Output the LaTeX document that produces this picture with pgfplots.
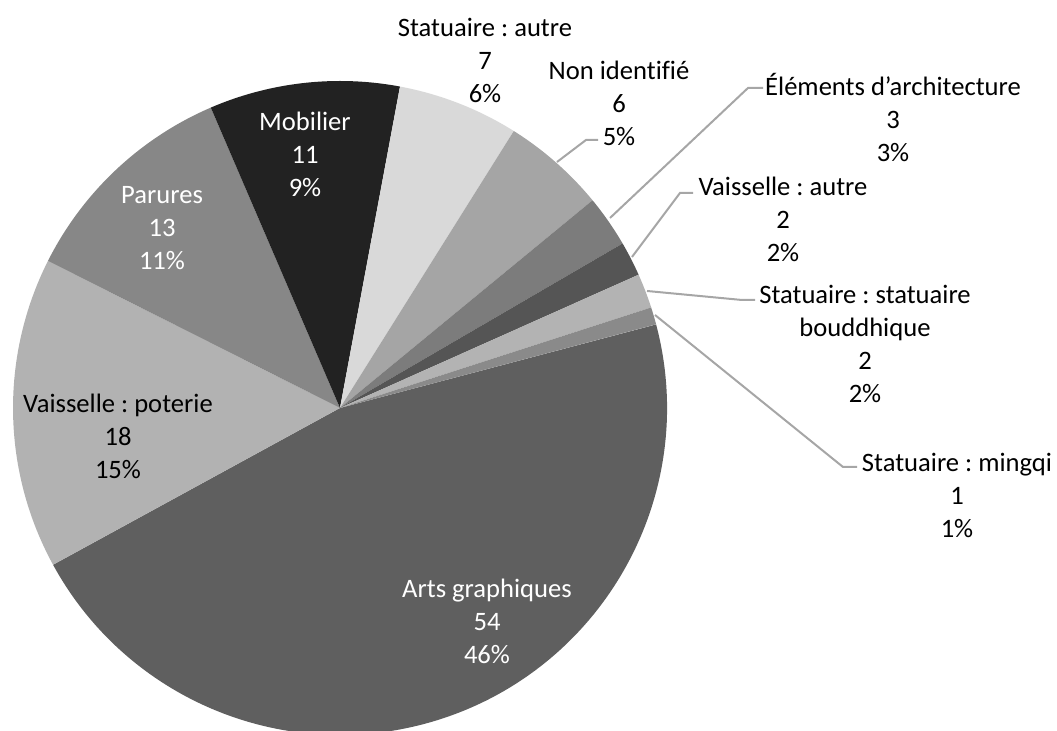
\documentclass[border=0pt]{standalone}
\usepackage{pgfplots}
\pgfplotsset{compat=1.18}
\usepackage{fontspec}
\setmainfont{Carlito}[Ligatures=NoCommon]
\frenchspacing
\definecolor{c1}{HTML}{5F5F5F}
\definecolor{c2}{HTML}{B2B2B2}
\definecolor{c3}{HTML}{878787}
\definecolor{c4}{HTML}{222222}
\definecolor{c5}{HTML}{D9D9D9}
\definecolor{c6}{HTML}{A5A5A5}
\definecolor{c7}{HTML}{7C7C7C}
\definecolor{c8}{HTML}{555555}
\definecolor{c9}{HTML}{B3B3B3}
\definecolor{c10}{HTML}{8A8A8A}
\definecolor{leader}{HTML}{A6A6A6}
% values of the slices, clockwise from "Arts graphiques"
\pgfmathsetmacro\total{54+18+13+11+7+6+3+2+2+1}
\gdef\curang{14.8}
\newcommand\slice[2]{%
  \pgfmathsetmacro\endang{\curang-#1/\total*360}%
  \edef\temp{\noexpand\fill[#2] (axis cs:340,323) -- ++(\curang:163.5pt) arc[start angle=\curang, end angle=\endang, radius=163.5pt] -- cycle;}%
  \temp
  \global\let\curang\endang
}
\begin{document}
\begin{tikzpicture}
\begin{axis}[x=0.5pt,y=0.5pt,xmin=0,xmax=1057,ymin=0,ymax=731,
  hide axis, clip=false, scale only axis]
\slice{54}{c1}
\slice{18}{c2}
\slice{13}{c3}
\slice{11}{c4}
\slice{7}{c5}
\slice{6}{c6}
\slice{3}{c7}
\slice{2}{c8}
\slice{2}{c9}
\slice{1}{c10}
% leader lines
\draw[leader, line width=1pt] (axis cs:557,569) -- (axis cs:586,591) -- (axis cs:598,591);
\draw[leader, line width=1pt] (axis cs:610,513) -- (axis cs:748,643) -- (axis cs:763,643);
\draw[leader, line width=1pt] (axis cs:632,474) -- (axis cs:680,538) -- (axis cs:693,538);
\draw[leader, line width=1pt] (axis cs:647,440) -- (axis cs:742,431) -- (axis cs:755,431);
\draw[leader, line width=1pt] (axis cs:655,416) -- (axis cs:843,264) -- (axis cs:857,264);
% labels
\tikzset{lab/.style={align=center, inner sep=0pt, font=\fontsize{13.3}{16.5}\selectfont}}
\node[lab, white] at (axis cs:305,577) {Mobilier\\11\\9\%};
\node[lab, white] at (axis cs:162,503) {Parures\\13\\11\%};
\node[lab, black] at (axis cs:118,295) {Vaisselle : poterie\\18\\15\%};
\node[lab, white] at (axis cs:487,110) {Arts graphiques\\54\\46\%};
\node[lab, black] at (axis cs:485,671) {Statuaire : autre\\7\\6\%};
\node[lab, black] at (axis cs:619,628) {Non identifié\\6\\5\%};
\node[lab, black] at (axis cs:893,613) {Éléments d’architecture\\3\\3\%};
\node[lab, black] at (axis cs:783,512) {Vaisselle : autre\\2\\2\%};
\node[lab, black] at (axis cs:865,387.5) {Statuaire : statuaire\\bouddhique\\2\\2\%};
\node[lab, black] at (axis cs:957,236) {Statuaire : mingqi\\1\\1\%};
\end{axis}
\pgfresetboundingbox
\path[use as bounding box] (current axis.south west) rectangle (current axis.north east);
\end{tikzpicture}
\end{document}
